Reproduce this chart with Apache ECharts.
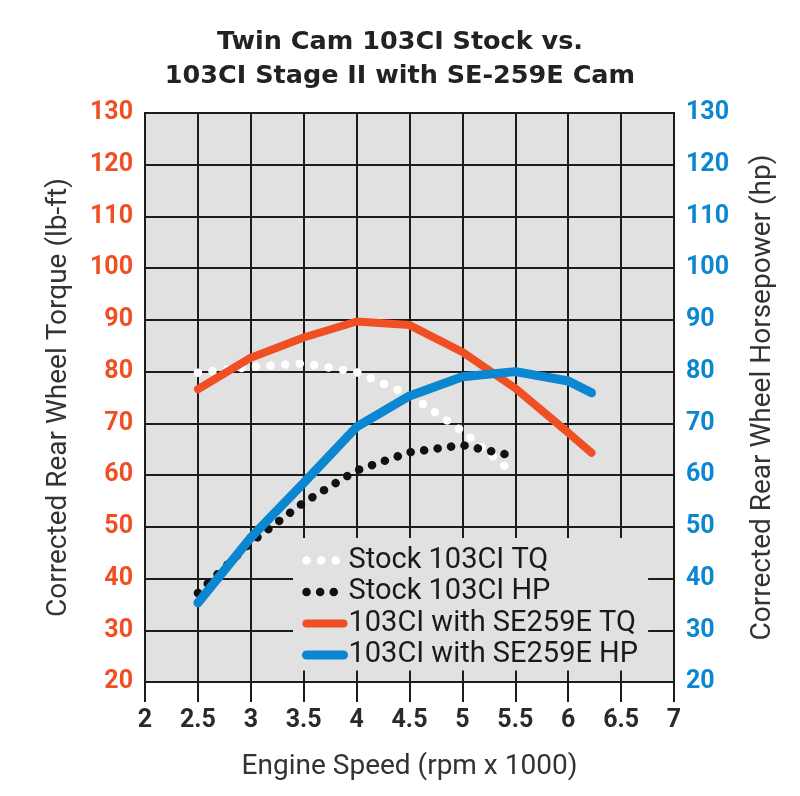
<!DOCTYPE html>
<html>
<head>
<meta charset="utf-8">
<script src="https://cdn.jsdelivr.net/npm/echarts@6/dist/echarts.min.js"></script>
<style>
  html, body { margin: 0; padding: 0; background: #fff; }
  #chart { width: 800px; height: 796px; }
</style>
</head>
<body>
<div id="chart"></div>
<script>
// engine speed (rpm x 1000) and readings taken off the dyno sheet
const stockTQ = [[2.5, 79.8], [3, 80.9], [3.5, 81.6], [4, 79.9], [4.5, 75.5], [5, 68.5], [5.46, 60.7]];
const stockHP = [[2.5, 37.2], [3, 47], [3.5, 54.7], [4, 60.9], [4.5, 64.4], [5, 65.8], [5.46, 63.8]];
const camTQ = [[2.5, 76.6], [3, 82.7], [3.5, 86.6], [4, 89.7], [4.5, 89.0], [5, 83.8], [5.5, 76.8], [6, 68.2], [6.22, 64.3]];
const camHP = [[2.5, 35.3], [3, 47.9], [3.5, 58.5], [4, 69.3], [4.5, 75.3], [5, 79.0], [5.5, 80.0], [6, 78.2], [6.22, 75.9]];
const seriesNames = ['Stock 103CI TQ', 'Stock 103CI HP', '103CI with SE259E TQ', '103CI with SE259E HP'];

const RED = '#f04e23';
const BLUE = '#0b86d1';
const INK = '#1c1c1c';
const FONT = 'Roboto';

const chart = echarts.init(document.getElementById('chart'));

const option = {
  animation: false,
  backgroundColor: '#fff',
  title: {
    text: 'Twin Cam 103CI Stock vs.\n103CI Stage II with SE-259E Cam',
    left: 'center',
    top: 20,
    textStyle: { fontFamily: 'DejaVu Sans', fontWeight: 'bold', fontSize: 25.5, lineHeight: 34, color: '#222' }
  },
  grid: {
    left: 145, right: 126, top: 113, bottom: 114,
    show: true,
    backgroundColor: '#e1e1e2',
    borderColor: INK,
    borderWidth: 2
  },
  legend: {
    orient: 'vertical',
    left: 293,
    top: 538,
    padding: [8, 10, 1, 9],
    itemGap: 2.5,
    itemWidth: 37,
    itemHeight: 14,
    backgroundColor: '#e1e1e2',
    data: seriesNames,
    itemStyle: { opacity: 0 },
    lineStyle: { width: 'inherit', type: 'inherit', cap: 'inherit' },
    textStyle: { fontFamily: FONT, fontSize: 29, lineHeight: 29, color: '#1a1a1a' }
  },
  xAxis: {
    type: 'value',
    min: 2, max: 7, interval: 0.5,
    name: 'Engine Speed (rpm x 1000)',
    nameLocation: 'middle',
    nameGap: 71,
    nameTextStyle: { fontFamily: FONT, fontSize: 28, color: '#333' },
    axisLine: { show: true, lineStyle: { color: INK, width: 2 } },
    axisTick: { show: true, length: 20, lineStyle: { color: INK, width: 2 } },
    axisLabel: { fontFamily: FONT, fontWeight: 'bold', fontSize: 25, color: '#2a2a2a', margin: 26 },
    splitLine: { show: true, lineStyle: { color: INK, width: 2 } }
  },
  yAxis: [{
    type: 'value',
    min: 20, max: 130, interval: 10,
    name: 'Corrected Rear Wheel Torque (lb-ft)',
    nameLocation: 'middle',
    nameGap: 72,
    nameTextStyle: { fontFamily: FONT, fontSize: 28, color: '#333' },
    axisLine: { show: false },
    axisTick: { show: false },
    axisLabel: { fontFamily: FONT, fontWeight: 'bold', fontSize: 25, color: RED, margin: 12 },
    splitLine: { show: true, lineStyle: { color: INK, width: 2 } }
  }, {
    type: 'value',
    min: 20, max: 130, interval: 10,
    position: 'right',
    name: 'Corrected Rear Wheel Horsepower (hp)',
    nameLocation: 'middle',
    nameGap: 75,
    nameRotate: 90,
    nameTextStyle: { fontFamily: FONT, fontSize: 28, color: '#333' },
    axisLine: { show: false },
    axisTick: { show: false },
    axisLabel: { fontFamily: FONT, fontWeight: 'bold', fontSize: 25, color: BLUE, margin: 12 },
    splitLine: { show: false }
  }],
  series: [{
    name: seriesNames[0],
    type: 'line',
    data: stockTQ,
    symbol: 'none',
    z: 3,
    itemStyle: { color: '#ffffff' },
    lineStyle: { color: '#ffffff', width: 8.5, type: [0.1, 14.5], cap: 'round' }
  }, {
    name: seriesNames[1],
    type: 'line',
    data: stockHP,
    yAxisIndex: 1,
    symbol: 'none',
    z: 3,
    itemStyle: { color: '#111' },
    lineStyle: { color: '#111', width: 8.5, type: [0.1, 13.5], cap: 'round' }
  }, {
    name: seriesNames[2],
    type: 'line',
    data: camTQ,
    symbol: 'none',
    z: 4,
    itemStyle: { color: RED },
    lineStyle: { color: RED, width: 8, cap: 'round' }
  }, {
    name: seriesNames[3],
    type: 'line',
    data: camHP,
    yAxisIndex: 1,
    symbol: 'none',
    z: 5,
    itemStyle: { color: BLUE },
    lineStyle: { color: BLUE, width: 9, cap: 'round' }
  }]
};

chart.setOption(option);
</script>
</body>
</html>
